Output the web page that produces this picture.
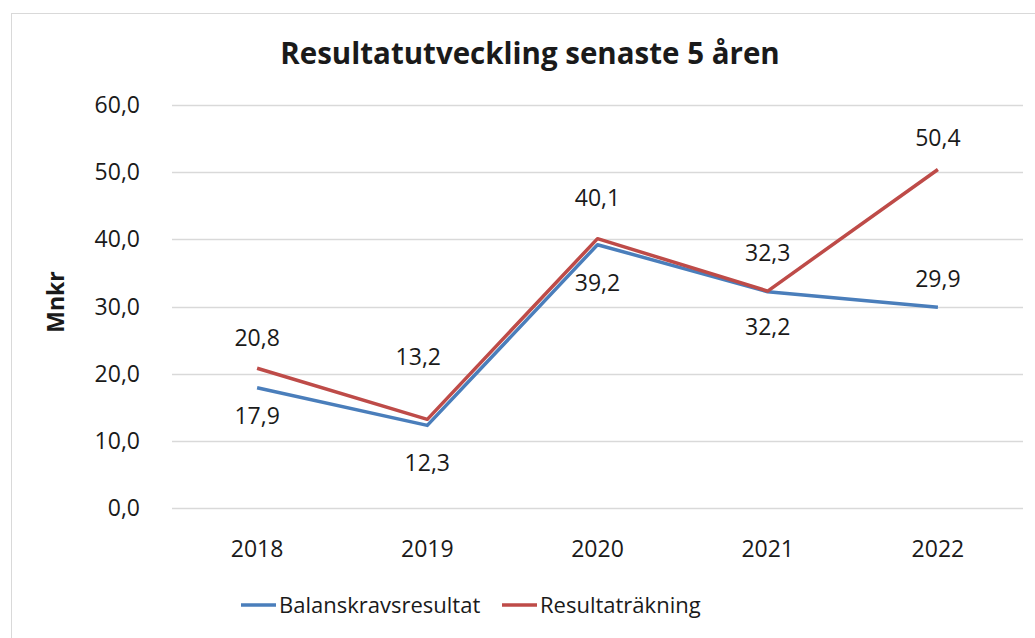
<!DOCTYPE html>
<html>
<head>
<meta charset="utf-8">
<script src="https://cdn.jsdelivr.net/npm/d3@7"></script>
<style>
  body { margin: 0; background: #fff; }
  text { font-family: 'Open Sans', sans-serif; fill: #1a1a1a; }
</style>
</head>
<body>
<div id="chart"></div>
<script>
var years = ['2018', '2019', '2020', '2021', '2022']
var balanskrav = [17.9, 12.3, 39.2, 32.2, 29.9]
var resultat = [20.8, 13.2, 40.1, 32.3, 50.4]
var yTicks = [0, 10, 20, 30, 40, 50, 60]
// label offsets: positive = below the point
var balanskravLabelDy = [28, 38, 38, 35, -28]
var resultatLabelDy = [-30, -62, -41, -38, -32]
var resultatLabelDx = [0, -9, 0, 0, 0]

var width = 1035
var height = 638
var margin = { top: 105, left: 172, right: 12, bottom: 130 }

var svg = d3
  .select('#chart')
  .append('svg')
  .attr('width', width)
  .attr('height', height)

svg
  .append('rect')
  .attr('x', 11.5)
  .attr('y', 13.5)
  .attr('width', 1040)
  .attr('height', 640)
  .attr('fill', '#fff')
  .attr('stroke', '#d9d9d9')

var xScale = d3
  .scaleBand()
  .domain(years)
  .range([margin.left, width - margin.right])

var yScale = d3
  .scaleLinear()
  .domain([0, 60])
  .range([508, 105])

var fmt = d => d.toFixed(1).replace('.', ',')

// gridlines
svg
  .selectAll('.grid')
  .data(yTicks)
  .enter()
  .append('line')
  .attr('class', 'grid')
  .attr('x1', margin.left)
  .attr('x2', width - margin.right)
  .attr('y1', d => Math.round(yScale(d)) + 0.5)
  .attr('y2', d => Math.round(yScale(d)) + 0.5)
  .attr('stroke', '#d9d9d9')
  .attr('stroke-width', 1.5)

// y axis labels
svg
  .selectAll('.ytick')
  .data(yTicks)
  .enter()
  .append('text')
  .attr('class', 'ytick')
  .attr('x', 140)
  .attr('y', d => yScale(d))
  .attr('dy', '0.35em')
  .attr('text-anchor', 'end')
  .attr('font-size', 23)
  .text(fmt)

// x axis labels
svg
  .selectAll('.xtick')
  .data(years)
  .enter()
  .append('text')
  .attr('class', 'xtick')
  .attr('x', d => xScale(d) + xScale.bandwidth() / 2)
  .attr('y', 549)
  .attr('dy', '0.35em')
  .attr('text-anchor', 'middle')
  .attr('font-size', 23)
  .text(d => d)

svg
  .append('text')
  .attr('transform', 'translate(56,302) rotate(-90)')
  .attr('text-anchor', 'middle')
  .attr('dy', '0.35em')
  .attr('font-size', 23)
  .attr('font-weight', 700)
  .text('Mnkr')

svg
  .append('text')
  .attr('x', 530)
  .attr('y', 54)
  .attr('dy', '0.35em')
  .attr('text-anchor', 'middle')
  .attr('font-size', 29.5)
  .attr('font-weight', 700)
  .text('Resultatutveckling senaste 5 åren')

var line = d3
  .line()
  .x((d, i) => xScale(years[i]) + xScale.bandwidth() / 2)
  .y(d => yScale(d))

var series = [
  { name: 'Balanskravsresultat', values: balanskrav, color: '#4a7ebb', dy: balanskravLabelDy, dx: [0, 0, 0, 0, 0] },
  { name: 'Resultaträkning', values: resultat, color: '#be4b48', dy: resultatLabelDy, dx: resultatLabelDx }
]

series.forEach(s => {
  svg
    .append('path')
    .datum(s.values)
    .attr('d', line)
    .attr('fill', 'none')
    .attr('stroke', s.color)
    .attr('stroke-width', 3.5)
    .attr('stroke-linejoin', 'round')
})

series.forEach(s => {
  svg
    .selectAll(null)
    .data(s.values)
    .enter()
    .append('text')
    .attr('x', (d, i) => xScale(years[i]) + xScale.bandwidth() / 2 + s.dx[i])
    .attr('y', (d, i) => yScale(d) + s.dy[i])
    .attr('dy', '0.35em')
    .attr('text-anchor', 'middle')
    .attr('font-size', 23)
    .text(fmt)
})

// legend
var legendItems = [
  { name: 'Balanskravsresultat', color: '#4a7ebb', x: 241 },
  { name: 'Resultaträkning', color: '#be4b48', x: 502 }
]

var legend = svg
  .selectAll('.legend')
  .data(legendItems)
  .enter()
  .append('g')
  .attr('class', 'legend')
  .attr('transform', d => 'translate(' + d.x + ',605)')

legend
  .append('line')
  .attr('x1', 0)
  .attr('x2', 35)
  .attr('stroke', d => d.color)
  .attr('stroke-width', 3.5)

legend
  .append('text')
  .attr('x', 38)
  .attr('dy', '0.35em')
  .attr('font-size', 22)
  .text(d => d.name)
</script>
</body>
</html>
